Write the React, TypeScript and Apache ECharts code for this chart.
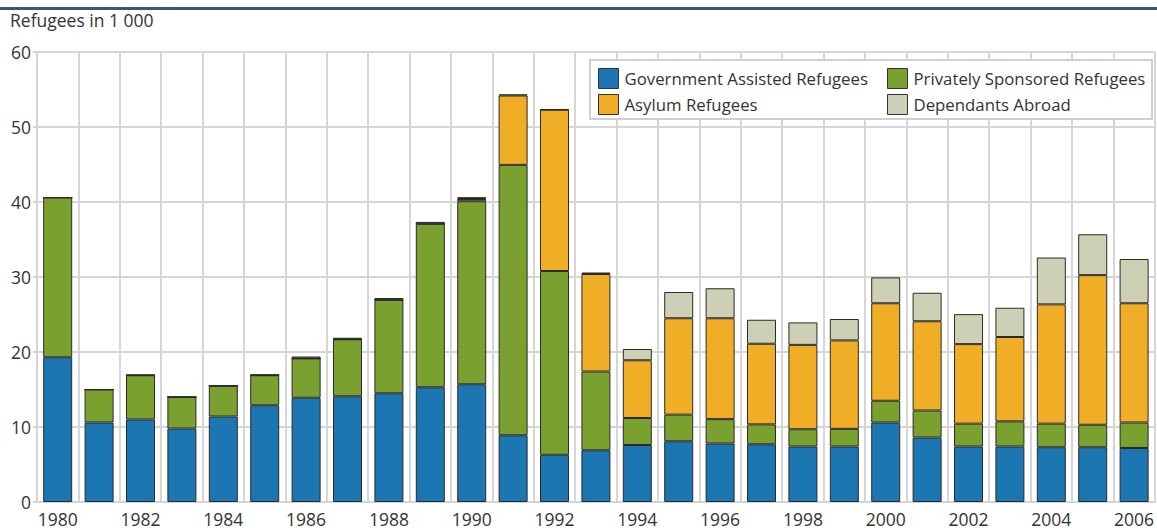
import React, { useEffect, useRef } from "react";
import * as echarts from "echarts";

const years = [
  "1980","1981","1982","1983","1984","1985","1986","1987","1988","1989",
  "1990","1991","1992","1993","1994","1995","1996","1997","1998","1999",
  "2000","2001","2002","2003","2004","2005","2006",
];
const government = [19.3,10.6,11.0,9.8,11.4,12.9,13.9,14.1,14.5,15.3,15.7,8.9,6.3,6.9,7.6,8.1,7.8,7.7,7.4,7.4,10.6,8.6,7.4,7.4,7.3,7.3,7.2];
const privately = [21.3,4.4,5.9,4.2,4.1,4.0,5.25,7.6,12.45,21.8,24.4,36.05,24.5,10.5,3.6,3.55,3.25,2.65,2.3,2.35,2.9,3.6,3.05,3.35,3.15,3.0,3.4];
const asylum = [0,0,0,0,0,0,0,0,0,0,0.3,9.25,21.5,13.0,7.7,12.85,13.45,10.75,11.25,11.8,13.0,11.9,10.6,11.25,15.9,19.95,15.9];
const dependants = [0,0,0.05,0,0.05,0.1,0.25,0.2,0.25,0.25,0.25,0.15,0.05,0.2,1.5,3.5,4.0,3.2,3.0,2.85,3.45,3.8,4.0,3.9,6.25,5.45,5.9];
const yTicks = [0, 10, 20, 30, 40, 50, 60];

const names = {
  gov: "Government Assisted Refugees",
  priv: "Privately Sponsored Refugees",
  asy: "Asylum Refugees",
  dep: "Dependants Abroad",
};
const colors = {
  gov: "#1c76b2",
  priv: "#7aa12f",
  asy: "#f0ae27",
  dep: "#cdd0b5",
};

const FONT = "Open Sans";
const FS = 17.5;
const LEG_FS = 16.8;

export default function App() {
  const ref = useRef<HTMLDivElement>(null);
  useEffect(() => {
    if (!ref.current) return;
    const chart = echarts.init(ref.current, null, { renderer: "svg" });
    const mkSeries = (name: string, data: number[], color: string) => ({
      name,
      type: "bar",
      stack: "total",
      data,
      barWidth: 29,
      itemStyle: { color, borderColor: "#2a2a2a", borderWidth: 1 },
    });
    const legendCommon = {
      orient: "vertical",
      top: 68,
      padding: 0,
      itemWidth: 20,
      itemHeight: 20,
      itemGap: 5,
      icon: "rect",
      z: 8,
      textStyle: { fontFamily: FONT, fontSize: LEG_FS, color: "#333", padding: [0, 0, 0, 1] },
      itemStyle: { borderColor: "#333", borderWidth: 1 },
      selectedMode: false,
    };
    chart.setOption({
      animation: false,
      backgroundColor: "#fff",
      grid: { left: 37, top: 52, width: 1125, height: 451, containLabel: false },
      xAxis: {
        type: "category",
        data: years,
        boundaryGap: true,
        axisLine: { show: true, lineStyle: { color: "#d4d4d4", width: 2 } },
        axisTick: { show: false },
        axisLabel: {
          interval: 1,
          margin: 8,
          fontFamily: FONT,
          fontSize: FS,
          color: "#333",
        },
        splitLine: { show: true, interval: 0, lineStyle: { color: "#d6d6d6", width: 2 } },
      },
      yAxis: {
        type: "value",
        min: 0,
        max: 60,
        interval: 10,
        axisLine: { show: true, lineStyle: { color: "#d4d4d4", width: 2 } },
        axisTick: { show: true, length: 4, lineStyle: { color: "#d4d4d4", width: 2 } },
        axisLabel: {
          margin: 6,
          fontFamily: FONT,
          fontSize: FS,
          color: "#333",
          formatter: (v: number) => (yTicks.includes(v) ? String(v) : ""),
        },
        splitLine: { show: true, lineStyle: { color: "#d6d6d6", width: 2 } },
      },
      legend: [
        { ...legendCommon, left: 598, data: [names.gov, names.asy] },
        { ...legendCommon, left: 887, data: [names.priv, names.dep] },
      ],
      graphic: [
        {
          type: "rect",
          left: 0,
          top: 7,
          shape: { width: 1157, height: 3 },
          style: { fill: "#3d5579" },
          z: 10,
        },
        {
          type: "text",
          left: 10,
          top: 11,
          style: { text: "Refugees in 1 000", font: `${FS}px "${FONT}"`, fill: "#333" },
        },
        {
          type: "rect",
          shape: { x: 590, y: 60, width: 562, height: 59 },
          style: { fill: "#fff", stroke: "#d0d0d0", lineWidth: 2 },
          z: 3,
        },
      ],
      series: [
        mkSeries(names.gov, government, colors.gov),
        mkSeries(names.priv, privately, colors.priv),
        mkSeries(names.asy, asylum, colors.asy),
        mkSeries(names.dep, dependants, colors.dep),
      ],
    });
    return () => chart.dispose();
  }, []);
  return (
    <div
      ref={ref}
      style={{ position: "fixed", left: 0, top: 0, width: 1157, height: 528 }}
    />
  );
}
